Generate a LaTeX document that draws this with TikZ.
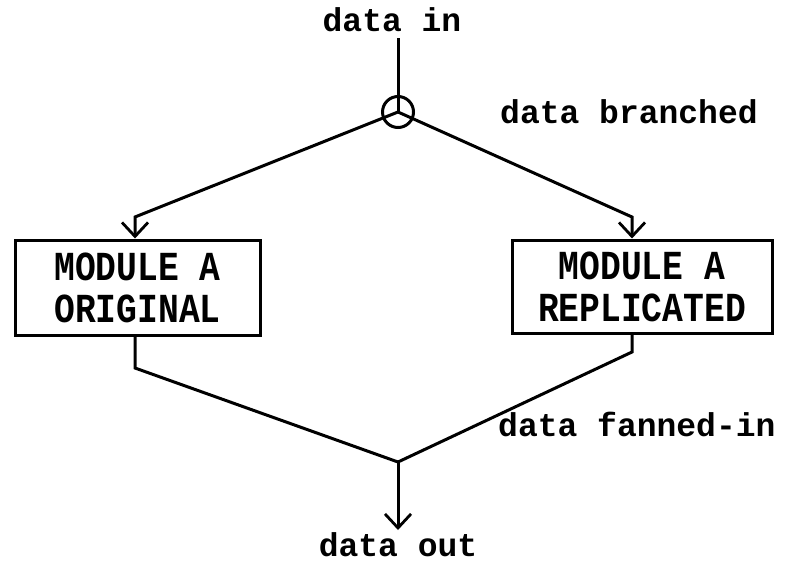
\documentclass[tikz,border=0pt]{standalone}
\usepackage{fontspec}
\setmainfont{Liberation Mono}
\usetikzlibrary{arrows.meta}
\begin{document}
\begin{tikzpicture}[x=1pt,y=-1pt,
  every node/.style={font=\fontsize{33}{36}\selectfont\bfseries, inner sep=0pt},
  ln/.style={line width=3pt, line join=miter},
  arr/.style={ln, -{Straight Barb[length=14pt,width=26pt,line width=2.8pt]}},
  modbox/.style={draw, line width=3pt, align=center},
  lbl/.style={anchor=west}]
\useasboundingbox (0,0) rectangle (789,565);
% text labels
\node (in) at (392,20) {data in};
\node (out) at (398,545) {data out};
\node[lbl] (br) at (500,112) {data branched};
\node[lbl] (fi) at (498,424) {data fanned-in};
% branch circle
\coordinate (top) at (398,38);
\node[circle, draw, line width=3pt, minimum size=31pt] (c) at (398,112) {};
% boxes
\node[modbox, minimum width=245pt, minimum height=95pt] (a) at (137.5,287.5)
  {\scalebox{1.05}[1.25]{MODULE A}\\[6pt]\scalebox{1.05}[1.25]{ORIGINAL}};
\node[modbox, minimum width=260pt, minimum height=93pt] (b) at (642,286.5)
  {\scalebox{1.05}[1.25]{MODULE A}\\[6pt]\scalebox{1.05}[1.25]{REPLICATED}};
% bend points
\coordinate (lb) at (135,217);
\coordinate (rb) at (632,217);
\coordinate (la) at (135,368);
\coordinate (ra) at (632,352);
\coordinate (j) at (398,462);
% connectors
\draw[ln] (top) -- (c.center);
\draw[arr] (c.center) -- (lb) -- (lb |- a.north);
\draw[arr] (c.center) -- (rb) -- (rb |- b.north);
\draw[ln] (la |- a.south) -- (la) -- (j);
\draw[ln] (ra |- b.south) -- (ra) -- (j);
\draw[arr] (j) -- (398,530);
\end{tikzpicture}
\end{document}
